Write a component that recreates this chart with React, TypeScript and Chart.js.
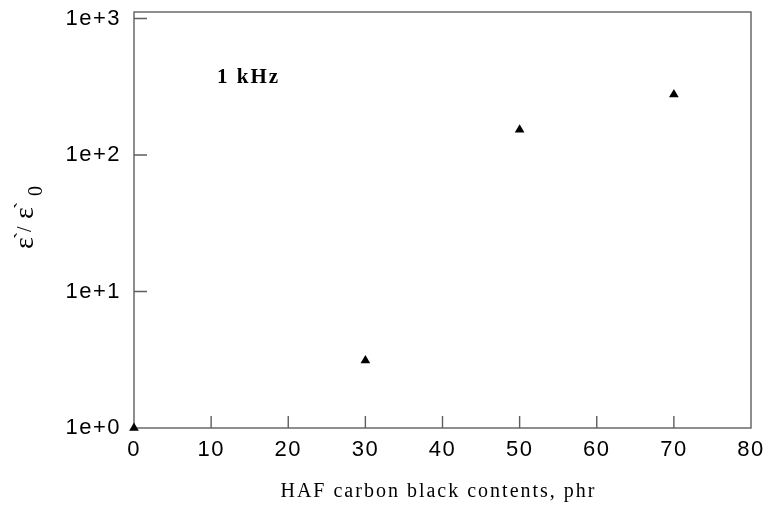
import React, { useEffect, useRef } from 'react';
import { Chart, registerables } from 'chart.js';

Chart.register(...registerables);

// ---- data ----
const carbonBlack = [0, 30, 50, 70];
const permittivity = [1, 3.12, 153, 277];
const xTickValues = [0, 10, 20, 30, 40, 50, 60, 70, 80];
const yTickValues = [1, 10, 100, 1000];
const yTickLabels = ['1e+0', '1e+1', '1e+2', '1e+3'];
const xTitle = 'HAF carbon black contents, phr';
const yTitleSymbol = 'ε';
const yTitlePrime = '`';
const yTitleSlash = '/';
const yTitleSub = '0';
const annotation = '1 kHz';

const SPACING = '1.5px';

const framePlugin = {
  id: 'frame',
  beforeLayout(chart: any) {
    chart.ctx.letterSpacing = SPACING;
  },
  beforeDraw(chart: any) {
    chart.ctx.letterSpacing = SPACING;
  },
  beforeDatasetsDraw(chart: any) {
    const { ctx, chartArea, scales } = chart;
    const { left, right, top, bottom } = chartArea;
    const x = scales.x;
    const y = scales.y;
    ctx.save();
    ctx.strokeStyle = '#5e5e5e';
    ctx.lineWidth = 1.4;
    ctx.strokeRect(left, top, right - left, bottom - top);
    ctx.beginPath();
    x.ticks.forEach((t: any) => {
      if (t.value > x.min && t.value < x.max) {
        const px = x.getPixelForValue(t.value);
        ctx.moveTo(px, bottom);
        ctx.lineTo(px, bottom - 12);
      }
    });
    y.ticks.forEach((t: any) => {
      if (t.value > y.min && t.value < y.max) {
        const py = y.getPixelForValue(t.value);
        ctx.moveTo(left, py);
        ctx.lineTo(left + 13, py);
      }
    });
    ctx.stroke();
    ctx.restore();
  },
  afterDraw(chart: any) {
    const { ctx, chartArea } = chart;
    const { left, right, top, bottom } = chartArea;
    ctx.save();
    ctx.fillStyle = '#000';
    ctx.letterSpacing = '2px';
    // x title
    ctx.font = '20px "Liberation Serif"';
    ctx.textAlign = 'center';
    ctx.textBaseline = 'middle';
    ctx.fillText(xTitle, (left + right) / 2 - 4, 492);
    // annotation
    ctx.font = 'bold 21px "Liberation Serif"';
    ctx.textAlign = 'left';
    ctx.textBaseline = 'alphabetic';
    ctx.fillText(annotation, left + 83, top + 71);
    // y title (rotated, drawn piece by piece)
    ctx.letterSpacing = '0px';
    ctx.translate(0, (top + bottom) / 2 - 2);
    ctx.rotate(-Math.PI / 2);
    ctx.textAlign = 'left';
    ctx.textBaseline = 'alphabetic';
    ctx.font = '28px "Liberation Serif"';
    ctx.fillText(yTitleSymbol, -31, 33);
    ctx.fillText(yTitleSymbol, -1, 33);
    ctx.font = '22px "Liberation Serif"';
    ctx.fillText(yTitlePrime, -21, 29);
    ctx.fillText(yTitlePrime, 9, 29);
    ctx.font = '20px "Liberation Serif"';
    ctx.fillText(yTitleSlash, -14, 31);
    ctx.fillText(yTitleSub, 22, 42);
    ctx.restore();
  },
};

export default function App() {
  const canvasRef = useRef<HTMLCanvasElement | null>(null);

  useEffect(() => {
    if (!canvasRef.current) return;
    const chart = new Chart(canvasRef.current, {
      type: 'scatter',
      data: {
        datasets: [
          {
            data: carbonBlack.map((v, i) => ({ x: v, y: permittivity[i] })),
            pointStyle: 'triangle',
            pointRadius: 5.6,
            pointHoverRadius: 5.6,
            backgroundColor: '#000',
            borderColor: '#000',
            borderWidth: 0,
            showLine: false,
            clip: false as any,
          },
        ],
      },
      options: {
        animation: false,
        responsive: true,
        maintainAspectRatio: false,
        layout: { padding: { top: 12, right: 15, left: 0, bottom: 0 } },
        plugins: {
          legend: { display: false },
          tooltip: { enabled: false },
        },
        scales: {
          x: {
            type: 'linear',
            min: 0,
            max: 80,
            grid: { display: false, drawTicks: false },
            border: { display: false },
            afterBuildTicks: (scale: any) => {
              scale.ticks = xTickValues.map((v) => ({ value: v }));
            },
            afterFit: (scale: any) => {
              scale.height = 82;
              scale.paddingLeft = 0;
              scale.paddingRight = 0;
            },
            ticks: {
              color: '#000',
              padding: 9,
              maxRotation: 0,
              font: { family: '"Liberation Sans"', size: 22 },
              callback: (v: any) => String(v),
            },
          },
          y: {
            type: 'logarithmic',
            min: 1,
            max: 1115,
            grid: { display: false, drawTicks: false },
            border: { display: false },
            afterBuildTicks: (scale: any) => {
              scale.ticks = yTickValues.map((v) => ({ value: v }));
            },
            afterFit: (scale: any) => {
              scale.width = 134;
              scale.paddingTop = 0;
              scale.paddingBottom = 0;
            },
            ticks: {
              color: '#000',
              padding: 13,
              font: { family: '"Liberation Sans"', size: 22 },
              callback: (v: any) => {
                const i = yTickValues.indexOf(Number(v));
                return i >= 0 ? yTickLabels[i] : '';
              },
            },
          },
        },
      },
      plugins: [framePlugin],
    } as any);
    return () => chart.destroy();
  }, []);

  return (
    <div style={{ position: 'absolute', left: 0, top: 0, width: 766, height: 510, background: '#fff' }}>
      <canvas ref={canvasRef} />
    </div>
  );
}
